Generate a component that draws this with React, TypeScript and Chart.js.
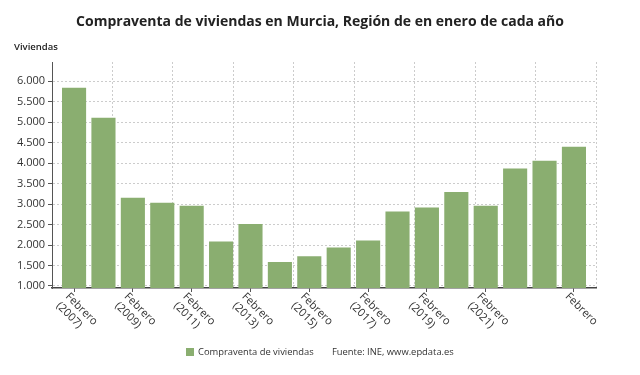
import React, { useEffect, useRef } from "react";
import { Chart, registerables } from "chart.js";

Chart.register(...registerables);

const title = "Compraventa de viviendas en Murcia, Región de en enero de cada año";
const yAxisTitle = "Viviendas";
const seriesName = "Compraventa de viviendas";
const sourceText = "Fuente: INE, www.epdata.es";

const years = [
  "2007", "2008", "2009", "2010", "2011", "2012", "2013", "2014", "2015",
  "2016", "2017", "2018", "2019", "2020", "2021", "2022", "2023", "2024",
];
const values = [
  5840, 5110, 3154, 3032, 2958, 2088, 2512, 1585, 1727,
  1941, 2112, 2820, 2917, 3293, 2959, 3868, 4056, 4398,
];
const tickLabels: string[][] = [
  ["Febrero", "(2007)"], [], ["Febrero", "(2009)"], [], ["Febrero", "(2011)"], [],
  ["Febrero", "(2013)"], [], ["Febrero", "(2015)"], [], ["Febrero", "(2017)"], [],
  ["Febrero", "(2019)"], [], ["Febrero", "(2021)"], [], [], ["Febrero"],
];
const yTicks = [1000, 1500, 2000, 2500, 3000, 3500, 4000, 4500, 5000, 5500, 6000];
const gridSteps = [0, 1, 2, 3, 4, 5, 6, 7, 8, 9];

const FONT = "'Open Sans', 'DejaVu Sans', sans-serif";
const GREEN = "#8aae70";
const TEXT = "#333333";

function fmt(n: number): string {
  return n.toLocaleString("de-DE");
}

export default function App() {
  const ref = useRef<HTMLCanvasElement | null>(null);

  useEffect(() => {
    document.body.style.margin = "0";
    const canvas = ref.current;
    if (!canvas) return;

    const decor = {
      id: "decor",
      afterDraw(chart: any) {
        const ctx = chart.ctx;
        ctx.save();
        ctx.fillStyle = "#222";
        ctx.font = `bold 14px ${FONT}`;
        ctx.textAlign = "center";
        ctx.textBaseline = "middle";
        ctx.fillText(title, 320, 22);
        ctx.font = `600 9.5px ${FONT}`;
        ctx.textAlign = "left";
        ctx.fillText(yAxisTitle, 14, 47);
        const xs = chart.scales.x;
        ctx.font = `11px ${FONT}`;
        ctx.fillStyle = TEXT;
        ctx.textAlign = "left";
        ctx.textBaseline = "top";
        xs.ticks.forEach((t: any) => {
          const lines = tickLabels[t.value] || [];
          if (!lines.length) return;
          const px = xs.getPixelForValue(t.value);
          ctx.save();
          ctx.translate(px - 3, xs.top + 3);
          ctx.rotate(Math.PI / 4);
          lines.forEach((ln, i) => ctx.fillText(ln, 0, i * 13));
          ctx.restore();
        });
        ctx.textBaseline = "middle";
        ctx.fillStyle = GREEN;
        ctx.fillRect(186, 348, 8, 8);
        ctx.fillStyle = TEXT;
        ctx.font = `9.4px ${FONT}`;
        ctx.fillText(seriesName, 198, 352.5);
        ctx.fillText(sourceText, 332, 352.5);
        ctx.restore();
      },
    };

    const chart = new Chart(canvas, {
      type: "bar",
      data: {
        labels: years,
        datasets: [
          {
            label: seriesName,
            data: values.map((v, i) => ({ x: i, y: v })),
            backgroundColor: GREEN,
            barPercentage: 0.82,
            categoryPercentage: 1,
            xAxisID: "x",
            yAxisID: "y",
          },
        ],
      },
      options: {
        animation: false,
        responsive: true,
        maintainAspectRatio: false,
        layout: { padding: { left: 0, right: 44, top: 62, bottom: 77 } },
        plugins: {
          legend: { display: false },
          title: { display: false },
          tooltip: { enabled: false },
        },
        scales: {
          x: {
            type: "linear",
            position: "bottom",
            offset: false,
            min: -0.75,
            max: 17.75,
            afterBuildTicks: (scale: any) => {
              scale.ticks = tickLabels
                .map((l, i) => ({ l, i }))
                .filter((o) => o.l.length)
                .map((o) => ({ value: o.i }));
            },
            afterFit: (scale: any) => {
              scale.height = 10;
            },
            ticks: { display: false },
            grid: {
              offset: false,
              drawOnChartArea: false,
              drawTicks: true,
              tickLength: 4,
              tickColor: "#555",
            },
            border: { color: "#444", width: 1.5 },
          },
          xg: {
            type: "linear",
            position: "top",
            offset: false,
            min: 0,
            max: 9,
            afterBuildTicks: (scale: any) => {
              scale.ticks = gridSteps.map((v) => ({ value: v }));
            },
            afterFit: (scale: any) => {
              scale.height = 0;
            },
            ticks: { display: false },
            grid: {
              offset: false,
              color: "#cccccc",
              drawTicks: false,
              tickLength: 0,
            },
            border: { display: false, dash: [2, 2] },
          },
          y: {
            type: "linear",
            min: 950,
            max: 6470,
            afterBuildTicks: (scale: any) => {
              scale.ticks = yTicks.map((v) => ({ value: v }));
            },
            afterFit: (scale: any) => {
              scale.width = 52;
            },
            ticks: {
              color: TEXT,
              font: { family: FONT, size: 11 },
              padding: 3,
              callback: (v: any) => fmt(Number(v)),
            },
            grid: {
              color: "#cccccc",
              tickColor: "#555",
              tickLength: 4,
            },
            border: { color: "#555", dash: [2, 2] },
          },
        },
      },
      plugins: [decor],
    });

    return () => chart.destroy();
  }, []);

  return (
    <div style={{ width: 640, height: 375, position: "relative" }}>
      <canvas ref={ref} />
    </div>
  );
}
